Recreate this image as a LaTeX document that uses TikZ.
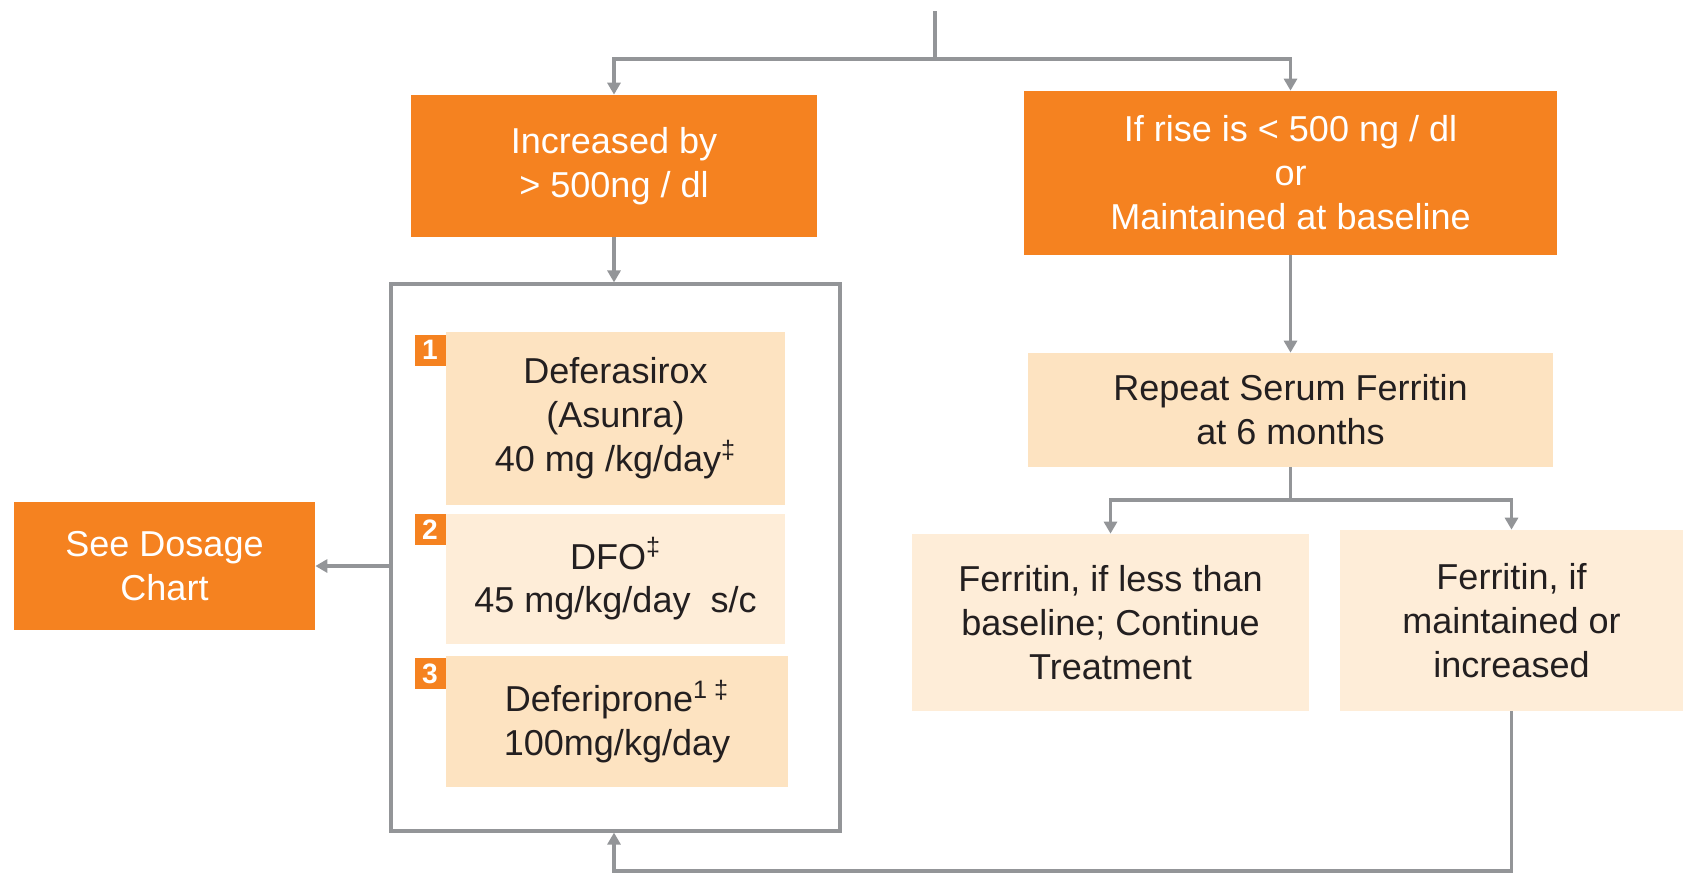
\documentclass[tikz,border=0pt]{standalone}
\usepackage{fontspec}
\setmainfont{Liberation Sans}
\usetikzlibrary{arrows.meta}
\definecolor{orng}{HTML}{F58220}
\definecolor{peach}{HTML}{FDE3C1}
\definecolor{cream}{HTML}{FEEDD8}
\definecolor{lgray}{HTML}{939598}
\definecolor{ink}{HTML}{231F20}
\begin{document}
\begin{tikzpicture}[
  >={Triangle[length=0.24cm,width=0.26cm]},
  every node/.style={font=\fontsize{20.5}{25}\selectfont, align=center, inner sep=0pt},
  hot/.style={fill=orng, text=white},
  soft/.style={fill=peach, text=ink},
  pale/.style={fill=cream, text=ink},
  badge/.style={fill=orng, text=white, minimum size=0.62cm, font=\fontsize{16}{16}\selectfont\bfseries},
  link/.style={draw=lgray, line width=2.2pt},
]
  \useasboundingbox (0,0) rectangle (33.72,-17.48);

  % first split
  \node (incr) [hot, minimum width=8.12cm, minimum height=2.84cm] at (12.28,-3.32) {Increased by\\> 500ng / dl};
  \node (rise) [hot, minimum width=10.66cm, minimum height=3.28cm] at (25.81,-3.46) {If rise is < 500 ng / dl\\or\\Maintained at baseline};

  % chelation options
  \node (meds) [draw=lgray, line width=1.8pt, minimum width=8.98cm, minimum height=10.94cm] at (12.31,-11.15) {};
  \node (opt1) [soft, minimum width=6.78cm, minimum height=3.46cm] at (12.31,-8.37) {Deferasirox\\(Asunra)\\40 mg /kg/day\textsuperscript{‡}};
  \node (opt2) [pale, minimum width=6.78cm, minimum height=2.60cm] at (12.31,-11.58) {DFO\textsuperscript{‡}\\45 mg/kg/day\ \ s/c};
  \node (opt3) [soft, minimum width=6.84cm, minimum height=2.62cm] at (12.34,-14.43) {Deferiprone\textsuperscript{1}\,\textsuperscript{‡}\\100mg/kg/day};
  \node (num1) [badge] at (8.60,-7.00) {1};
  \node (num2) [badge] at (8.60,-10.59) {2};
  \node (num3) [badge] at (8.60,-13.47) {3};
  \node (dose) [hot, minimum width=6.02cm, minimum height=2.56cm] at (3.29,-11.32) {See Dosage\\Chart};

  % follow-up
  \node (repeat) [soft, minimum width=10.50cm, minimum height=2.28cm] at (25.81,-8.20) {Repeat Serum Ferritin\\at 6 months};
  \node (less) [pale, minimum width=7.94cm, minimum height=3.54cm] at (22.21,-12.45) {Ferritin, if less than\\baseline; Continue\\Treatment};
  \node (maint) [pale, minimum width=6.86cm, minimum height=3.62cm] at (30.23,-12.41) {Ferritin, if\\maintained or\\increased};

  \coordinate (top) at (18.70,-0.22);
  \coordinate (fork) at (18.70,-1.18);
  \coordinate (split) at (25.81,-10.00);
  \coordinate (back) at (30.23,-17.42);

  \draw[link] (top) -- (fork);
  \draw[link,->] (fork) -| (incr.north);
  \draw[link,->] (fork) -| (rise.north);
  \draw[link,->] (incr.south) -- (incr.south |- meds.north);
  \draw[link,->] (dose.east -| meds.west) -- (dose.east);
  \draw[link,->] (rise.south) -- (repeat.north);
  \draw[link] (repeat.south) -- (split);
  \draw[link,->] (split) -| (less.north);
  \draw[link,->] (split) -| (maint.north);
  \draw[link,->] (maint.south) -- (back) -| (incr.south |- meds.south);
\end{tikzpicture}
\end{document}
